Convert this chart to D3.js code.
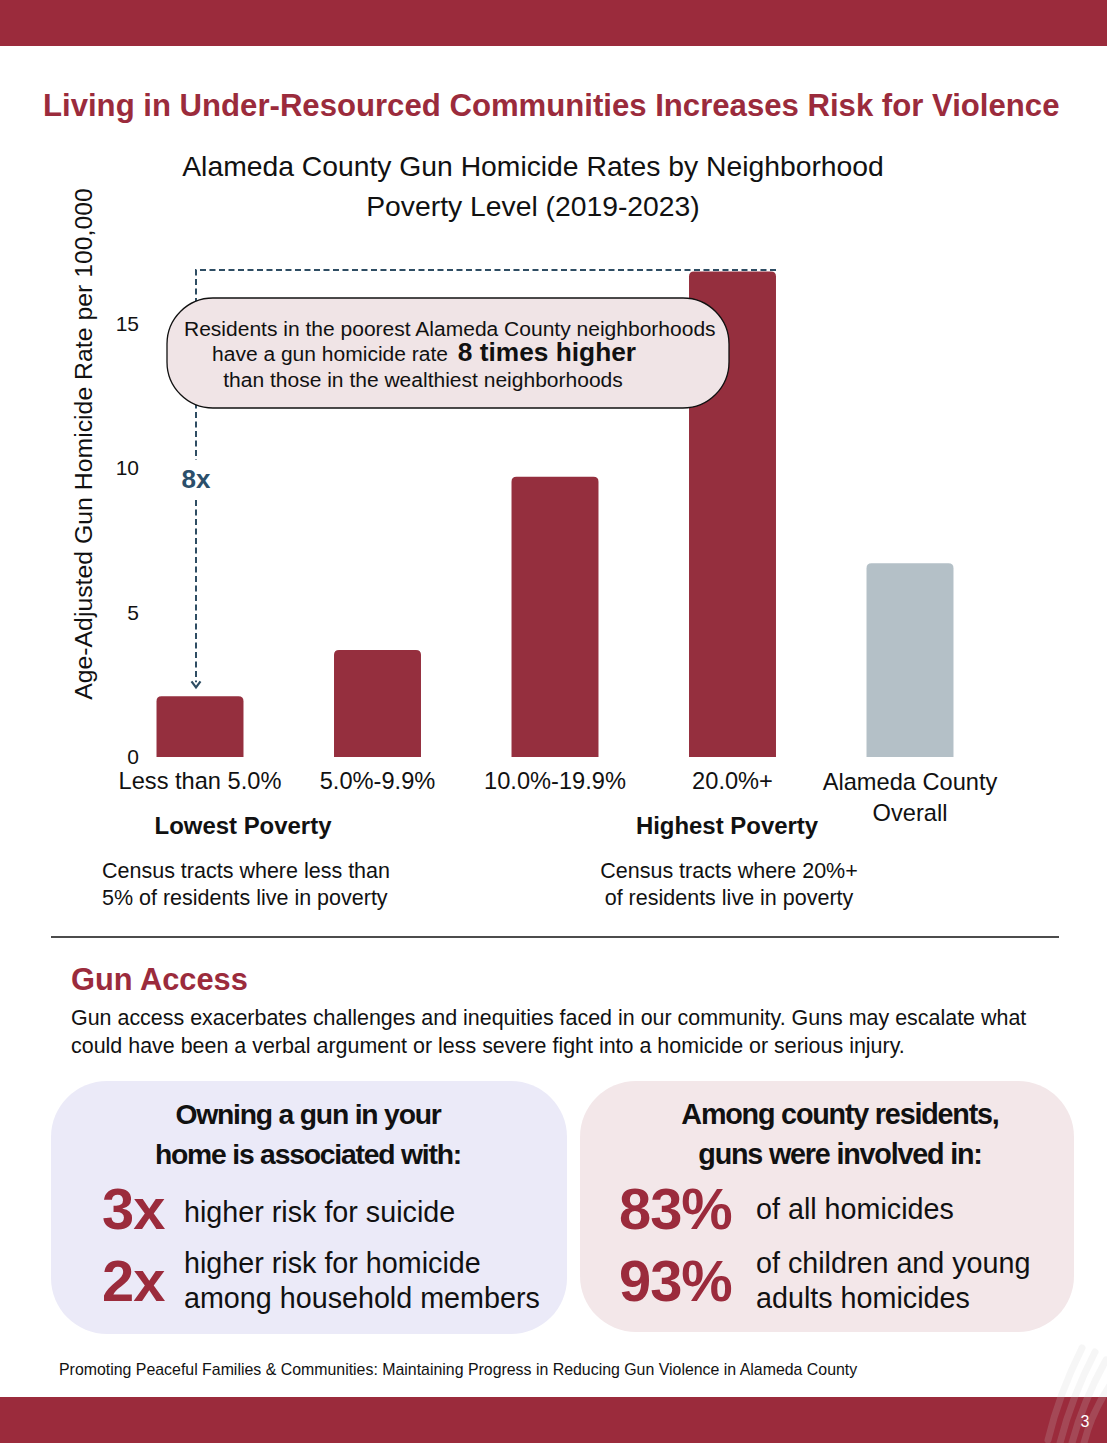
<!DOCTYPE html>
<html>
<head>
<meta charset="utf-8">
<script src="https://cdn.jsdelivr.net/npm/d3@7"></script>
<style>
  html, body { margin: 0; padding: 0; background: #ffffff; }
  svg { display: block; }
</style>
</head>
<body>
<script>
// ---------------- DATA ----------------
const categories = ["Less than 5.0%", "5.0%-9.9%", "10.0%-19.9%", "20.0%+", "Alameda County Overall"];
const rates = [2.1, 3.7, 9.7, 16.8, 6.7];
const yTicks = [0, 5, 10, 15];
const overallCategory = "Alameda County Overall";

const pageTitle = "Living in Under-Resourced Communities Increases Risk for Violence";
const chartTitle = ["Alameda County Gun Homicide Rates by Neighborhood", "Poverty Level (2019-2023)"];
const yAxisTitle = "Age-Adjusted Gun Homicide Rate per 100,000";
const calloutLines = ["Residents in the poorest Alameda County neighborhoods", "have a gun homicide rate ", "8 times higher", "than those in the wealthiest neighborhoods"];
const ratioLabel = "8x";
const lowLabel = "Lowest Poverty";
const highLabel = "Highest Poverty";
const lowNote = ["Census tracts where less than", "5% of residents live in poverty"];
const highNote = ["Census tracts where 20%+", "of residents live in poverty"];
const sectionTitle = "Gun Access";
const sectionText = ["Gun access exacerbates challenges and inequities faced in our community. Guns may escalate what",
                     "could have been a verbal argument or less severe fight into a homicide or serious injury."];
const card1Head = ["Owning a gun in your", "home is associated with:"];
const card1Stats = ["3x", "2x"];
const card1Text = [["higher risk for suicide"], ["higher risk for homicide", "among household members"]];
const card2Head = ["Among  county residents,", "guns were involved in:"];
const card2Stats = ["83%", "93%"];
const card2Text = [["of all homicides"], ["of children and young", "adults homicides"]];
const footerText = "Promoting Peaceful Families & Communities: Maintaining Progress in Reducing Gun Violence in Alameda County";
const pageNumber = "3";

// ---------------- STYLE ----------------
const W = 1107, H = 1443;
const FONT = "'Liberation Sans', Arial, sans-serif";
const RED = "#9B2B3C";
const BAR_RED = "#952F3E";
const BAR_GRAY = "#B4C0C7";
const DASH = "#2E4D63";
const TEXT = "#111111";

const svg = d3.select("body").append("svg").attr("width", W).attr("height", H)
  .attr("font-family", FONT);

function measure(str, weight, ls) {
  const t = svg.append("text").attr("font-size", 100).attr("font-weight", weight)
    .attr("letter-spacing", ls || 0).text(str);
  const w = t.node().getComputedTextLength();
  t.remove();
  return w;
}
function fitSize(str, target, weight, ls) {
  return 100 * target / measure(str, weight, ls);
}
function addText(str, x, y, size, o = {}) {
  return svg.append("text")
    .attr("x", x).attr("y", y)
    .attr("font-size", size)
    .attr("font-weight", o.weight || 400)
    .attr("text-anchor", o.anchor || "start")
    .attr("fill", o.fill || TEXT)
    .attr("letter-spacing", o.ls || 0)
    .text(str);
}

// ---------------- PAGE BANDS ----------------
svg.append("rect").attr("x", 0).attr("y", 0).attr("width", W).attr("height", 46).attr("fill", RED);
svg.append("rect").attr("x", 0).attr("y", 1397).attr("width", W).attr("height", H - 1397).attr("fill", RED);
// faint decorative strokes bottom-right
const deco = svg.append("g").attr("fill", "none").attr("stroke-linecap", "round");
[[1048, 1440, 1082, 1348], [1060, 1443, 1095, 1352], [1072, 1443, 1106, 1360], [1084, 1443, 1110, 1385]].forEach((d) => {
  deco.append("path")
    .attr("d", `M${d[0]},${d[1]} Q${(d[0] + d[2]) / 2 - 6},${(d[1] + d[3]) / 2} ${d[2]},${d[3]}`)
    .attr("stroke", "#cfcfcf")
    .attr("stroke-opacity", 0.18)
    .attr("stroke-width", 7);
});
addText(pageNumber, 1085, 1427, 16, { anchor: "middle", fill: "#ffffff" });

// ---------------- TITLES ----------------
addText(pageTitle, 43, 116, fitSize(pageTitle, 1017, 700), { weight: 700, fill: RED });
const ctSize = fitSize(chartTitle[0], 702, 400);
addText(chartTitle[0], 533, 176, ctSize, { anchor: "middle" });
addText(chartTitle[1], 533, 216, ctSize, { anchor: "middle" });

// ---------------- CHART ----------------
const y = d3.scaleLinear().domain([0, 17]).range([757, 757 - 17 * 28.9]);
const x = d3.scaleBand().domain(categories).range([111.25, 998.75])
  .paddingInner(0.51).paddingOuter(0.255);

// y axis (labels only)
const yAxisG = svg.append("g").attr("transform", "translate(139,0)")
  .call(d3.axisLeft(y).tickValues(yTicks).tickSize(0).tickPadding(0));
yAxisG.select(".domain").remove();
yAxisG.selectAll("text").attr("font-size", 21).attr("font-family", FONT).attr("fill", TEXT);

// y axis title
svg.append("text")
  .attr("transform", "translate(92,444) rotate(-90)")
  .attr("text-anchor", "middle")
  .attr("font-size", fitSize(yAxisTitle, 512, 400))
  .attr("fill", TEXT)
  .text(yAxisTitle);

// bars with rounded top corners
function barPath(x0, y0, w, h, r) {
  r = Math.min(r, h, w / 2);
  return `M${x0},${y0 + h} V${y0 + r} Q${x0},${y0} ${x0 + r},${y0} H${x0 + w - r} Q${x0 + w},${y0} ${x0 + w},${y0 + r} V${y0 + h} Z`;
}
svg.append("g").selectAll("path").data(categories).join("path")
  .attr("d", (c, i) => barPath(x(c), y(rates[i]), x.bandwidth(), y(0) - y(rates[i]), 5))
  .attr("fill", c => c === overallCategory ? BAR_GRAY : BAR_RED);

// x axis labels
const xAxisG = svg.append("g").attr("transform", `translate(0,${y(0)})`)
  .call(d3.axisBottom(x).tickSize(0).tickPadding(15));
xAxisG.select(".domain").remove();
const xLabSize = fitSize(categories[0], 163, 400);
xAxisG.selectAll(".tick text")
  .attr("font-size", xLabSize).attr("font-family", FONT).attr("fill", TEXT)
  .each(function (d) {
    if (d === overallCategory) {
      const t = d3.select(this).text(null).attr("dy", null).attr("y", 33);
      t.append("tspan").attr("x", 0).text("Alameda County");
      t.append("tspan").attr("x", 0).attr("dy", 31).text("Overall");
    }
  });

// dashed comparison annotation
const xLow = x(categories[0]) + x.bandwidth() / 2 - 4;
const xHigh = x(categories[3]) + x.bandwidth();
const yTop = y(rates[3]) - 1.5;
const ann = svg.append("g").attr("fill", "none").attr("stroke", DASH)
  .attr("stroke-width", 2).attr("stroke-dasharray", "6,3.5");
ann.append("path").attr("d", `M${xHigh},${yTop} H${xLow} V${460}`);
ann.append("path").attr("d", `M${xLow},${500} V${y(rates[0]) - 14}`);
svg.append("path")
  .attr("d", `M${xLow - 4.5},${y(rates[0]) - 15} L${xLow},${y(rates[0]) - 9} L${xLow + 4.5},${y(rates[0]) - 15}`)
  .attr("fill", "none").attr("stroke", DASH).attr("stroke-width", 2.2);
addText(ratioLabel, xLow, 488, 26, { weight: 700, anchor: "middle", fill: "#2B4F6B" });

// callout box
svg.append("rect").attr("x", 167).attr("y", 298).attr("width", 562).attr("height", 110)
  .attr("rx", 46).attr("ry", 46)
  .attr("fill", "#F0E4E6").attr("stroke", "#111").attr("stroke-width", 1.3);
const cSize = fitSize(calloutLines[0], 532, 400);
addText(calloutLines[0], 184, 336, cSize);
const l2 = svg.append("text").attr("x", 212).attr("y", 361).attr("fill", TEXT);
l2.append("tspan").attr("font-size", cSize).text(calloutLines[1]);
l2.append("tspan").attr("font-size", cSize * 1.25).attr("font-weight", 700).attr("dx", 4).text(calloutLines[2]);
addText(calloutLines[3], 423, 387, cSize, { anchor: "middle" });

// group labels and notes
const glSize = fitSize(lowLabel, 177, 700);
addText(lowLabel, 243, 834, glSize, { weight: 700, anchor: "middle" });
addText(highLabel, 727, 834, glSize, { weight: 700, anchor: "middle" });
const noteSize = fitSize(lowNote[0], 288, 400);
addText(lowNote[0], 102, 878, noteSize);
addText(lowNote[1], 102, 905, noteSize);
addText(highNote[0], 729, 878, noteSize, { anchor: "middle" });
addText(highNote[1], 729, 905, noteSize, { anchor: "middle" });

// divider
svg.append("line").attr("x1", 51).attr("x2", 1059).attr("y1", 937).attr("y2", 937)
  .attr("stroke", "#111").attr("stroke-width", 1.5);

// ---------------- GUN ACCESS ----------------
addText(sectionTitle, 71, 990, fitSize(sectionTitle, 177, 700), { weight: 700, fill: RED });
const pSize = fitSize(sectionText[0], 956, 400);
addText(sectionText[0], 71, 1025, pSize);
addText(sectionText[1], 71, 1053, pSize);

// cards
svg.append("rect").attr("x", 51).attr("y", 1081).attr("width", 516).attr("height", 253)
  .attr("rx", 56).attr("fill", "#EBEAF8");
svg.append("rect").attr("x", 580).attr("y", 1081).attr("width", 494).attr("height", 251)
  .attr("rx", 56).attr("fill", "#F3E7E9");

const hLS = -1.2;
const h1Size = fitSize(card1Head[1], 327, 700, hLS);
const h2Size = fitSize(card2Head[0], 337, 700, hLS);
addText(card1Head[0], 308, 1124, h1Size, { weight: 700, anchor: "middle", ls: hLS });
addText(card1Head[1], 308, 1164, h1Size, { weight: 700, anchor: "middle", ls: hLS });
addText(card2Head[0], 840, 1124, h2Size, { weight: 700, anchor: "middle", ls: hLS });
addText(card2Head[1], 840, 1164, h2Size, { weight: 700, anchor: "middle", ls: hLS });

const statSize = fitSize(card2Stats[0], 114, 700, -1);
const itemSize = fitSize(card1Text[1][1], 356, 400);
const statY = [1229, 1301];
const itemY = [[1222], [1273, 1308]];
card1Stats.forEach((s, i) => {
  addText(s, 102, statY[i], statSize, { weight: 700, fill: RED, ls: -1 });
  card1Text[i].forEach((t, j) => addText(t, 184, itemY[i][j], itemSize));
});
card2Stats.forEach((s, i) => {
  addText(s, 619, statY[i], statSize, { weight: 700, fill: RED, ls: -1 });
  card2Text[i].forEach((t, j) => addText(t, 756, itemY[i][j] - (i === 0 ? 3 : 0), itemSize));
});

// footer
addText(footerText, 59, 1375, fitSize(footerText, 799, 400));
</script>
</body>
</html>
